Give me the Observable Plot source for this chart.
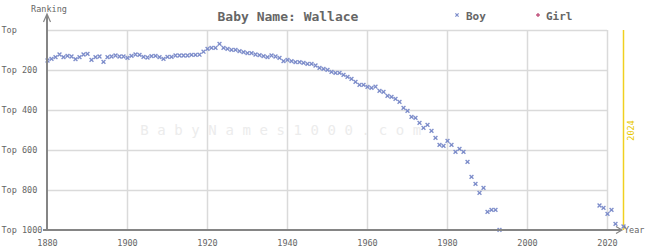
<!DOCTYPE html>
<html>
<head>
<meta charset="utf-8">
<script src="https://cdn.jsdelivr.net/npm/d3@7"></script>
<script src="https://cdn.jsdelivr.net/npm/@observablehq/plot@0.6"></script>
<style>
  html, body { margin: 0; padding: 0; background: #fff; }
  #chart svg { display: block; }
</style>
</head>
<body>
<div id="chart"></div>
<script>
const titleText = "Baby Name: Wallace";
const years = [
  1880,1881,1882,1883,1884,1885,1886,1887,1888,1889,
  1890,1891,1892,1893,1894,1895,1896,1897,1898,1899,
  1900,1901,1902,1903,1904,1905,1906,1907,1908,1909,
  1910,1911,1912,1913,1914,1915,1916,1917,1918,1919,
  1920,1921,1922,1923,1924,1925,1926,1927,1928,1929,
  1930,1931,1932,1933,1934,1935,1936,1937,1938,1939,
  1940,1941,1942,1943,1944,1945,1946,1947,1948,1949,
  1950,1951,1952,1953,1954,1955,1956,1957,1958,1959,
  1960,1961,1962,1963,1964,1965,1966,1967,1968,1969,
  1970,1971,1972,1973,1974,1975,1976,1977,1978,1979,
  1980,1981,1982,1983,1984,1985,1986,1987,1988,1989,
  1990,1991,1992,1993,
  2018,2019,2020,2021,2022,2024
];
const boyRanks = [
  150,142,133,120,133,127,130,143,133,120,
  117,147,133,130,157,133,130,125,130,130,
  137,127,120,122,132,135,128,127,133,142,
  132,132,125,125,125,125,122,122,121,106,
  92,87,87,67,87,92,97,97,103,108,
  113,113,120,123,128,133,125,130,137,153,
  147,153,158,158,162,167,167,175,187,192,
  197,207,212,212,222,232,242,257,272,272,
  282,287,281,302,307,327,332,342,357,387,
  402,432,437,462,487,472,502,537,572,577,
  552,572,607,592,607,657,732,767,812,787,
  907,897,897,997,
  875,887,917,897,967,980
];
const xTicks = [1880,1900,1920,1940,1960,1980,2000,2020];
const xGrid = [1900,1920,1940,1960,1980,2000,2020];
const yTicks = [0,200,400,600,800,1000];
const yGrid = [0,200,400,600,800];
const currentYear = 2024;

const data = years.map((y, i) => ({year: y, rank: boyRanks[i]}));
const mono = "'DejaVu Sans Mono', monospace";
const boyColor = "#7c8cca";
const girlColor = "#c0507a";
const gridColor = "#dadada";
const axisColor = "#858585";
const textColor = "#666";

const chart = Plot.plot({
  width: 645,
  height: 250,
  marginLeft: 47,
  marginRight: 22,
  marginTop: 30,
  marginBottom: 20,
  style: {fontFamily: mono, background: "#fff"},
  x: {domain: [1880, 2024], axis: null},
  y: {domain: [0, 1000], reverse: true, axis: null},
  marks: [
    Plot.ruleY(yGrid, {y: d => d, x1: 1880, x2: 2020, stroke: gridColor, strokeWidth: 1.5}),
    Plot.ruleX(xGrid, {x: d => d, y1: 0, y2: 1000, stroke: gridColor, strokeWidth: 1.5}),
    Plot.ruleX([currentYear], {x: d => d, y1: 0, y2: 1000, stroke: "#f0d020", strokeWidth: 1.5}),
    Plot.text(xTicks, {x: d => d, y: 1000, dy: 13, text: d => String(d), fontSize: 8.5, fill: textColor}),
    Plot.text(yTicks, {x: 1880, y: d => d, dx: -46, textAnchor: "start", text: d => d === 0 ? "Top" : "Top " + d, fontSize: 8.5, fill: textColor}),
    Plot.text([String(currentYear)], {x: currentYear, y: 500, dx: 8, rotate: -90, text: d => d, fontSize: 8.5, fill: "#e8c800"}),
    Plot.dot(data, {x: "year", y: "rank", symbol: "times", r: 1.9, stroke: boyColor, strokeWidth: 1.3})
  ]
});

document.getElementById("chart").appendChild(chart);

const svg = d3.select(chart);
const sx = chart.scale("x"), sy = chart.scale("y");
const x0 = sx.apply(1880), yb = sy.apply(1000), yt = sy.apply(0);
const xr = sx.apply(currentYear);

// watermark (behind dots)
const dotLayer = chart.querySelector("g[aria-label='dot']");
const wm = document.createElementNS("http://www.w3.org/2000/svg", "text");
chart.insertBefore(wm, dotLayer);
d3.select(wm)
  .attr("x", 285).attr("y", 131)
  .attr("text-anchor", "middle").attr("dominant-baseline", "middle")
  .style("font-family", mono).style("font-size", "14px")
  .style("letter-spacing", "8.6px")
  .attr("fill", "#ececec")
  .text("BabyNames1000.com");

const ax = svg.append("g").attr("stroke", axisColor).attr("fill", "none");
ax.append("line").attr("x1", x0).attr("x2", x0).attr("y1", yb).attr("y2", yt - 15).attr("stroke-width", 2);
ax.append("path").attr("d", `M${x0 - 3.5},${yt - 8} L${x0},${yt - 16} L${x0 + 3.5},${yt - 8}`).attr("stroke-width", 1.2);
ax.append("line").attr("x1", x0 - 4).attr("x2", xr - 2).attr("y1", yb).attr("y2", yb).attr("stroke-width", 2);
ax.append("path").attr("d", `M${xr - 7},${yb - 3.5} L${xr - 1},${yb} L${xr - 7},${yb + 3.5}`).attr("stroke-width", 1.2);

const t = svg.append("g").style("font-family", mono).attr("fill", textColor);
t.append("text").attr("x", x0 + 2).attr("y", 9).attr("text-anchor", "middle")
  .attr("dominant-baseline", "middle").style("font-size", "8.5px").text("Ranking");
t.append("text").attr("x", xr + 1).attr("y", yb).attr("text-anchor", "start").attr("dominant-baseline", "middle")
  .style("font-size", "8.5px").text("Year");
t.append("text").attr("x", 288).attr("y", 17).attr("text-anchor", "middle")
  .attr("dominant-baseline", "middle").style("font-size", "13px").style("font-weight", "bold")
  .text(titleText);
t.append("text").attr("x", 466).attr("y", 17).attr("text-anchor", "start").attr("dominant-baseline", "middle")
  .style("font-size", "11px").style("font-weight", "bold").text("Boy");
t.append("text").attr("x", 546).attr("y", 17).attr("text-anchor", "start").attr("dominant-baseline", "middle")
  .style("font-size", "11px").style("font-weight", "bold").text("Girl");
svg.append("path").attr("d", d3.symbol(d3.symbolTimes, 8)()).attr("transform", "translate(457,15)")
  .attr("fill", "none").attr("stroke", boyColor).attr("stroke-width", 1.2);
svg.append("path").attr("d", d3.symbol(d3.symbolCross, 8)()).attr("transform", "translate(538,15)")
  .attr("fill", girlColor).attr("stroke", "none");
</script>
</body>
</html>
